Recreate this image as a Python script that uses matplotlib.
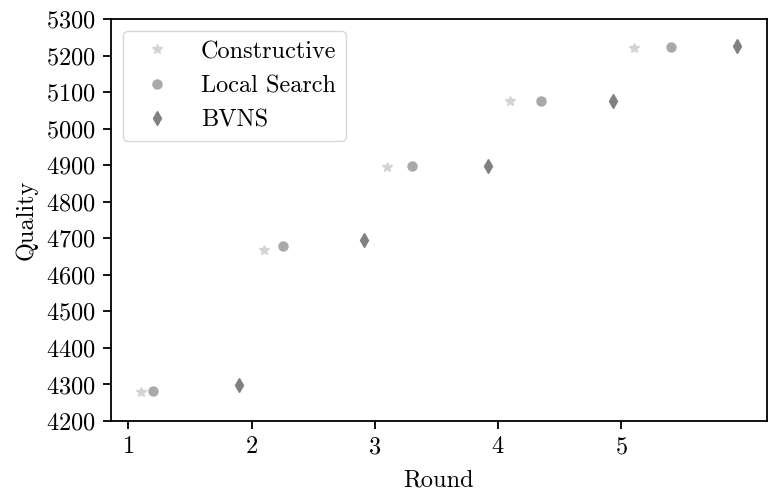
import matplotlib
matplotlib.use('Agg')
import matplotlib.pyplot as plt

plt.rcParams['font.family'] = 'cmr10'
plt.rcParams['mathtext.fontset'] = 'cm'
plt.rcParams['axes.unicode_minus'] = False
plt.rcParams['axes.formatter.use_mathtext'] = True
plt.rcParams['font.size'] = 17.5
plt.rcParams['axes.linewidth'] = 1.3
plt.rcParams['xtick.major.size'] = 6
plt.rcParams['ytick.major.size'] = 6
plt.rcParams['xtick.major.width'] = 1.3
plt.rcParams['ytick.major.width'] = 1.3
plt.rcParams['xtick.major.pad'] = 5
plt.rcParams['ytick.major.pad'] = 5

# data
x_constructive = [1.1, 2.1, 3.1, 4.1, 5.1]
y_constructive = [4280, 4668, 4895, 5075, 5220]
x_local = [1.2, 2.25, 3.3, 4.35, 5.4]
y_local = [4283, 4679, 4898, 5075, 5223]
x_bvns = [1.9, 2.91, 3.92, 4.93, 5.94]
y_bvns = [4298, 4695, 4898, 5075, 5226]

fig = plt.figure(figsize=(7.68, 4.91), dpi=100)
ax = fig.add_axes([111/768, 70/491, 656/768, 402/491])

ax.plot(x_constructive, y_constructive, linestyle='none', marker='*', markersize=7,
        color='lightgray', label='Constructive')
ax.plot(x_local, y_local, linestyle='none', marker='o', markersize=6.5,
        color='darkgray', label='Local Search')
ax.plot(x_bvns, y_bvns, linestyle='none', marker='d', markersize=7,
        color='gray', label='BVNS')

ax.set_ylim(4200, 5300)
ax.set_yticks(range(4200, 5301, 100))
ax.set_xticks([1, 2, 3, 4, 5])
ax.set_xlabel('Round', labelpad=8)
ax.set_ylabel('Quality', labelpad=6)
ax.legend(loc='upper left')

fig.savefig('out.png', dpi=100)
